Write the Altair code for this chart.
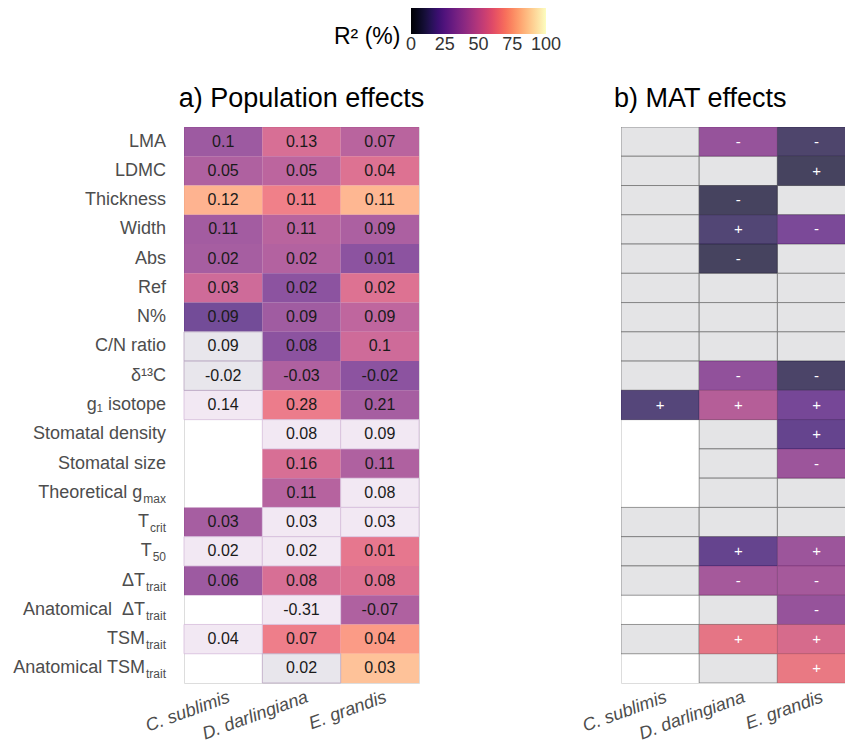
import altair as alt
import pandas as pd

# ---------------- data ----------------
species = ["C. sublimis", "D. darlingiana", "E. grandis"]

trait_keys = ["LMA", "LDMC", "Thickness", "Width", "Abs", "Ref", "N", "CN", "d13C", "g1",
              "StomDens", "StomSize", "gmax", "Tcrit", "T50", "dT", "AnatdT", "TSM", "AnatTSM"]
trait_main = ["LMA", "LDMC", "Thickness", "Width", "Abs", "Ref", "N%", "C/N ratio", "δ¹³C",
              "g₁ isotope", "Stomatal density", "Stomatal size", "Theoretical g", "T", "T",
              "ΔT", "Anatomical\u00a0 ΔT", "TSM", "Anatomical TSM"]
trait_sub = ["", "", "", "", "", "", "", "", "", "", "", "", "max", "crit", "50",
             "trait", "trait", "trait", "trait"]

# panel a: coefficients printed in the cells (None = not measured)
coef_cs = [0.1, 0.05, 0.12, 0.11, 0.02, 0.03, 0.09, 0.09, -0.02, 0.14, None, None, None,
           0.03, 0.02, 0.06, None, 0.04, None]
coef_dd = [0.13, 0.05, 0.11, 0.11, 0.02, 0.02, 0.09, 0.08, -0.03, 0.28, 0.08, 0.16, 0.11,
           0.03, 0.02, 0.08, -0.31, 0.07, 0.02]
coef_eg = [0.07, 0.04, 0.11, 0.09, 0.01, 0.02, 0.09, 0.1, -0.02, 0.21, 0.09, 0.11, 0.08,
           0.03, 0.01, 0.08, -0.07, 0.04, 0.03]
# panel a: R2 (%)
r2a_cs = [36, 42, 79, 38, 39, 52, 22, None, None, None, None, None, None, 39, None, 36, None, None, None]
r2a_dd = [55, 46, 64, 45, 43, 30, 37, 30, 42, 62, None, 55, 44, None, None, 55, None, 63, None]
r2a_eg = [45, 57, 80, 41, 30, 57, 47, 52, 30, 39, None, 42, None, None, 60, 57, 42, 72, 83]
# panel a status: s = significant, l = n.s. (light), g = n.s. (grey), "" = missing
stat_cs = ["s", "s", "s", "s", "s", "s", "s", "g", "g", "l", "", "", "", "s", "l", "s", "", "l", ""]
stat_dd = ["s", "s", "s", "s", "s", "s", "s", "s", "s", "s", "l", "s", "s", "l", "l", "s", "l", "s", "g"]
stat_eg = ["s", "s", "s", "s", "s", "s", "s", "s", "s", "s", "l", "s", "l", "l", "s", "s", "s", "s", "s"]

# panel b: MAT effects (R2 %, sign); status n = n.s., s = significant, "" = missing
statb_cs = ["n", "n", "n", "n", "n", "n", "n", "n", "n", "s", "", "", "", "n", "n", "n", "", "n", ""]
r2b_cs = [None, None, None, None, None, None, None, None, None, 15, None, None, None, None, None, None, None, None, None]
signb_cs = ["", "", "", "", "", "", "", "", "", "+", "", "", "", "", "", "", "", "", ""]
statb_dd = ["s", "n", "s", "s", "s", "n", "n", "n", "s", "s", "n", "n", "n", "n", "s", "s", "n", "s", "n"]
r2b_dd = [36, None, 9, 14, 9, None, None, None, 34, 46, None, None, None, None, 20, 41, None, 62, None]
signb_dd = ["-", "", "-", "+", "-", "", "", "", "-", "+", "", "", "", "", "+", "-", "", "+", ""]
statb_eg = ["s", "s", "n", "s", "n", "n", "n", "n", "s", "s", "s", "s", "n", "n", "s", "s", "s", "s", "s"]
r2b_eg = [12, 9, None, 27, None, None, None, None, 11, 25, 20, 38, None, None, 38, 41, 36, 57, 64]
signb_eg = ["-", "+", "", "-", "", "", "", "", "-", "+", "+", "-", "", "", "+", "-", "-", "+", "+"]

legend_values = [0, 25, 50, 75, 100]

# ---------------- tables ----------------
rows_a = []
for sp, coefs, r2s, stats in [(species[0], coef_cs, r2a_cs, stat_cs),
                              (species[1], coef_dd, r2a_dd, stat_dd),
                              (species[2], coef_eg, r2a_eg, stat_eg)]:
    for k, c, r, s in zip(trait_keys, coefs, r2s, stats):
        if s == "":
            continue
        rows_a.append({"species": sp, "key": k, "coef": f"{c:g}", "r2": r, "status": s})
df_a = pd.DataFrame(rows_a)

rows_b = []
for sp, r2s, signs, stats in [(species[0], r2b_cs, signb_cs, statb_cs),
                              (species[1], r2b_dd, signb_dd, statb_dd),
                              (species[2], r2b_eg, signb_eg, statb_eg)]:
    for k, r, g, s in zip(trait_keys, r2s, signs, stats):
        if s == "":
            continue
        rows_b.append({"species": sp, "key": k, "r2": r, "sign": g, "status": s})
df_b = pd.DataFrame(rows_b)

df_lab = pd.DataFrame({"key": trait_keys, "main": trait_main, "sub": trait_sub})

FONT = "Liberation Sans"
GREY_TXT = "#4d4d4d"
LAB_SIZE = 18
SUB_SIZE = 12
char_w = {"c": .5, "r": .333, "i": .222, "t": .278, "a": .556, "m": .833, "x": .5, "5": .556, "0": .556}

x_axis = alt.Axis(title=None, labelAngle=-20, labelAlign="right", labelBaseline="top",
                  labelFontStyle="italic", labelFontSize=18, labelColor=GREY_TXT,
                  labelPadding=5, labelOffset=3, ticks=False, tickSize=0, domain=False,
                  labelLimit=400, labelFont=FONT)

x_a = alt.X("species:N", scale=alt.Scale(domain=species, paddingInner=0, paddingOuter=0), axis=x_axis)
y_a = alt.Y("key:N", scale=alt.Scale(domain=trait_keys, paddingInner=0, paddingOuter=0), axis=None)

# a hair wider than 0-100 so the end labels of the colour bar are centred on its ends
color_scale = alt.Scale(scheme="magma", domain=[-0.01, 100.01])

base_a = alt.Chart(df_a)
sig_a = base_a.transform_filter("datum.status == 's'").mark_rect(fillOpacity=0.75).encode(
    x=x_a, y=y_a,
    color=alt.Color("r2:Q", scale=color_scale,
                    legend=alt.Legend(title=["", "R² (%)"], orient="none", legendX=150,
                                      legendY=-119, direction="horizontal",
                                      gradientLength=135, gradientThickness=26,
                                      titleOrient="left", titleLineHeight=32,
                                      titleFontSize=23, titleFontWeight="normal",
                                      titleColor="black", titleFont=FONT, titlePadding=10,
                                      labelFontSize=18, labelColor="#333333", labelFont=FONT,
                                      labelOverlap=False, values=legend_values,
                                      gradientStrokeWidth=0)))
light_a = base_a.transform_filter("datum.status == 'l'").mark_rect(
    fill="#f2e8f3", stroke="#d6bcdb", strokeWidth=0.8).encode(x=x_a, y=y_a)
grey_a = base_a.transform_filter("datum.status == 'g'").mark_rect(
    fill="#e8e6ec", stroke="#b9a5c0", strokeWidth=0.8).encode(x=x_a, y=y_a)
text_a = base_a.mark_text(fontSize=16, color="#1a1a1a", font=FONT).encode(
    x=x_a, y=y_a, text="coef:N")

# row labels: main text, shifted left by the width of its subscript, then the subscript
label_layers = []
for s in sorted(set(trait_sub)):
    w = sum(char_w[ch] for ch in s) * SUB_SIZE + (1 if s else 0)
    label_layers.append(
        alt.Chart(df_lab).transform_filter(alt.datum.sub == s).mark_text(
            align="right", baseline="middle", dx=-w, fontSize=LAB_SIZE, color=GREY_TXT,
            font=FONT).encode(y=y_a, x=alt.value(-18), text="main:N"))
sub_layer = alt.Chart(df_lab).transform_filter("datum.sub != ''").mark_text(
    align="right", baseline="alphabetic", dy=10, fontSize=SUB_SIZE, color=GREY_TXT,
    font=FONT).encode(y=y_a, x=alt.value(-18), text="sub:N")

panel_a = alt.layer(sig_a, light_a, grey_a, text_a, *label_layers, sub_layer).properties(
    width=235, height=556,
    title=alt.TitleParams("a) Population effects", fontSize=27, fontWeight="normal",
                          color="black", font=FONT, anchor="middle", frame="group",
                          offset=14, dy=27, baseline="bottom"))

x_b = alt.X("species:N", scale=alt.Scale(domain=species, range=[0, 234.6], paddingInner=0,
                                         paddingOuter=0), axis=x_axis)
y_b = alt.Y("key:N", scale=alt.Scale(domain=trait_keys, paddingInner=0, paddingOuter=0), axis=None)

base_b = alt.Chart(df_b)
grey_b = base_b.mark_rect(fill="#e4e4e6", stroke="#6b6b6b", strokeWidth=0.7, clip=True).encode(
    x=x_b, y=y_b)
sig_b = base_b.transform_filter("datum.status == 's'").mark_rect(fillOpacity=0.75, clip=True).encode(
    x=x_b, y=y_b, color=alt.Color("r2:Q", scale=color_scale, legend=None))
text_b = base_b.transform_filter("datum.status == 's'").mark_text(
    fontSize=15, color="white", font=FONT, clip=True).encode(x=x_b, y=y_b, text="sign:N")

panel_b = alt.layer(grey_b, sig_b, text_b).properties(
    width=225, height=556,
    title=alt.TitleParams("b) MAT effects", fontSize=27, fontWeight="normal", color="black",
                          font=FONT, anchor="start", frame="group", dx=-7, offset=14, dy=27,
                          baseline="bottom"))

chart = alt.hconcat(panel_a, panel_b, spacing=202, bounds="flush").properties(
    padding={"left": 12, "top": 8, "right": -12, "bottom": -2}
).configure_view(stroke=None).configure(font=FONT)

chart.save("out.html", embed_options={"renderer": "svg", "actions": False})
